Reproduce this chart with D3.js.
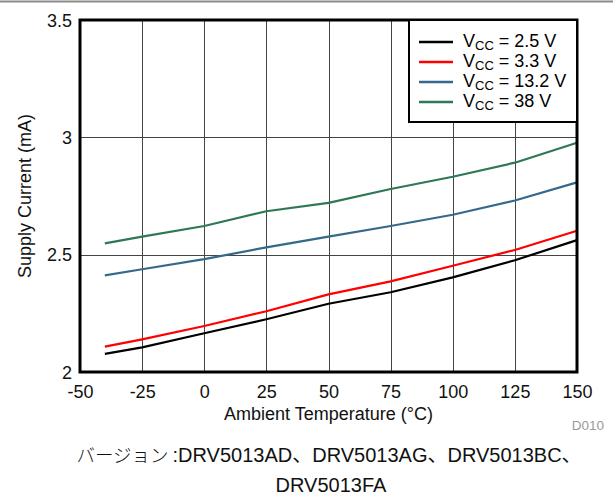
<!DOCTYPE html>
<html>
<head>
<meta charset="utf-8">
<script src="https://cdn.jsdelivr.net/npm/d3@7"></script>
<style>
  html, body { margin: 0; padding: 0; background: #fff; }
  svg text { font-family: "Liberation Sans", Arial, "Noto Sans CJK JP", sans-serif; }
</style>
</head>
<body>
<svg id="chart" width="613" height="501"></svg>
<script>
// Ambient temperature (°C) at which supply current was measured
const temperatures = [-40, -25, 0, 25, 50, 75, 100, 125, 150];

// Supply current (mA) for each supply voltage
const icc2v5  = [2.077, 2.105, 2.165, 2.225, 2.291, 2.340, 2.403, 2.476, 2.562];
const icc3v3  = [2.108, 2.139, 2.196, 2.259, 2.331, 2.386, 2.453, 2.520, 2.602];
const icc13v2 = [2.412, 2.438, 2.481, 2.531, 2.577, 2.622, 2.670, 2.731, 2.808];
const icc38   = [2.548, 2.577, 2.622, 2.685, 2.721, 2.780, 2.832, 2.892, 2.977];

const seriesLabels = ["2.5 V", "3.3 V", "13.2 V", "38 V"];
const seriesColors = ["#000000", "#ff0000", "#35698b", "#2e7856"];

const xTicks = [-50, -25, 0, 25, 50, 75, 100, 125, 150];
const yTicks = [2, 2.5, 3, 3.5];

const series = [icc2v5, icc3v3, icc13v2, icc38].map((vals, i) => ({
  label: seriesLabels[i],
  color: seriesColors[i],
  points: vals.map((v, j) => ({ t: temperatures[j], v }))
}));

const svg = d3.select("#chart");
const plotL = 80, plotR = 577, plotT = 20, plotB = 372;

const x = d3.scaleLinear().domain([-50, 150]).range([plotL, plotR]);
const y = d3.scaleLinear().domain([2, 3.5]).range([plotB, plotT]);

// thin rule across the top of the page
svg.append("line")
  .attr("x1", 0).attr("x2", 613).attr("y1", 1.5).attr("y2", 1.5)
  .attr("stroke", "#8a8a8a").attr("stroke-width", 2);

// grid
const grid = svg.append("g");
grid.selectAll("line.vx")
  .data(xTicks.slice(1, -1))
  .join("line")
  .attr("x1", d => Math.round(x(d)) + 0.5).attr("x2", d => Math.round(x(d)) + 0.5)
  .attr("y1", plotT).attr("y2", plotB)
  .attr("stroke", "#444").attr("stroke-width", 1);
grid.selectAll("line.hy")
  .data(yTicks.slice(1, -1))
  .join("line")
  .attr("x1", plotL).attr("x2", plotR)
  .attr("y1", d => Math.round(y(d)) + 0.5).attr("y2", d => Math.round(y(d)) + 0.5)
  .attr("stroke", "#444").attr("stroke-width", 1);

// axes (labels only; the frame is drawn separately)
const xAxis = d3.axisBottom(x).tickValues(xTicks).tickSize(0).tickPadding(0)
  .tickFormat(d => String(d));
const gx = svg.append("g").attr("transform", `translate(0,${plotB})`).call(xAxis);
gx.select(".domain").remove();
gx.selectAll("text")
  .attr("y", 26).attr("dy", null)
  .attr("font-size", 18).attr("fill", "#111")
  .style("font-family", '"Liberation Sans", Arial, sans-serif');

const yAxis = d3.axisLeft(y).tickValues(yTicks).tickSize(0).tickPadding(8)
  .tickFormat(d => String(d));
const gy = svg.append("g").attr("transform", `translate(${plotL},0)`).call(yAxis);
gy.select(".domain").remove();
gy.selectAll("text")
  .attr("font-size", 18).attr("fill", "#111").attr("dy", "0.35em")
  .style("font-family", '"Liberation Sans", Arial, sans-serif');

// data lines
const line = d3.line().x(d => x(d.t)).y(d => y(d.v));
svg.append("g").selectAll("path")
  .data(series)
  .join("path")
  .attr("d", d => line(d.points))
  .attr("fill", "none")
  .attr("stroke", d => d.color)
  .attr("stroke-width", 2.2)
  .attr("stroke-linejoin", "round");

// plot frame
svg.append("rect")
  .attr("x", plotL).attr("y", plotT)
  .attr("width", plotR - plotL).attr("height", plotB - plotT)
  .attr("fill", "none").attr("stroke", "#000").attr("stroke-width", 3);

// legend
const lg = svg.append("g");
lg.append("rect")
  .attr("x", 409).attr("y", plotT)
  .attr("width", plotR - 409).attr("height", 102)
  .attr("fill", "#fff").attr("stroke", "#000").attr("stroke-width", 2);
const rows = lg.selectAll("g.row").data(series).join("g")
  .attr("transform", (d, i) => `translate(0,${42 + i * 20})`);
rows.append("line")
  .attr("x1", 419).attr("x2", 453).attr("y1", 0).attr("y2", 0)
  .attr("stroke", d => d.color).attr("stroke-width", 2.5);
const lt = rows.append("text")
  .attr("x", 463).attr("y", 5)
  .attr("font-size", 18).attr("fill", "#000");
lt.append("tspan").text("V");
lt.append("tspan").attr("font-size", 13).attr("dy", 3).text("CC");
lt.append("tspan").attr("dy", -3).text(d => " = " + d.label);

// axis titles
svg.append("text")
  .attr("x", (plotL + plotR) / 2).attr("y", 420)
  .attr("text-anchor", "middle").attr("font-size", 18).attr("fill", "#111")
  .text("Ambient Temperature (°C)");
svg.append("text")
  .attr("transform", `translate(31,${(plotT + plotB) / 2}) rotate(-90)`)
  .attr("text-anchor", "middle").attr("font-size", 18).attr("fill", "#111")
  .text("Supply Current (mA)");

// figure id
svg.append("text")
  .attr("x", 604).attr("y", 430)
  .attr("text-anchor", "end").attr("font-size", 13.5).attr("fill", "#9a9a9a")
  .text("D010");

// device list
const cap1 = svg.append("text")
  .attr("x", 329).attr("y", 462)
  .attr("text-anchor", "middle").attr("font-size", 20).attr("fill", "#111");
cap1.append("tspan")
  .style("font-family", '"Noto Sans CJK JP", sans-serif')
  .attr("font-weight", 300).attr("font-size", 18.5)
  .text("バージョン");
cap1.append("tspan").text("\u2009:DRV5013AD、DRV5013AG、DRV5013BC、");
svg.append("text")
  .attr("x", 331).attr("y", 492)
  .attr("text-anchor", "middle").attr("font-size", 20).attr("fill", "#111")
  .text("DRV5013FA");
</script>
</body>
</html>
